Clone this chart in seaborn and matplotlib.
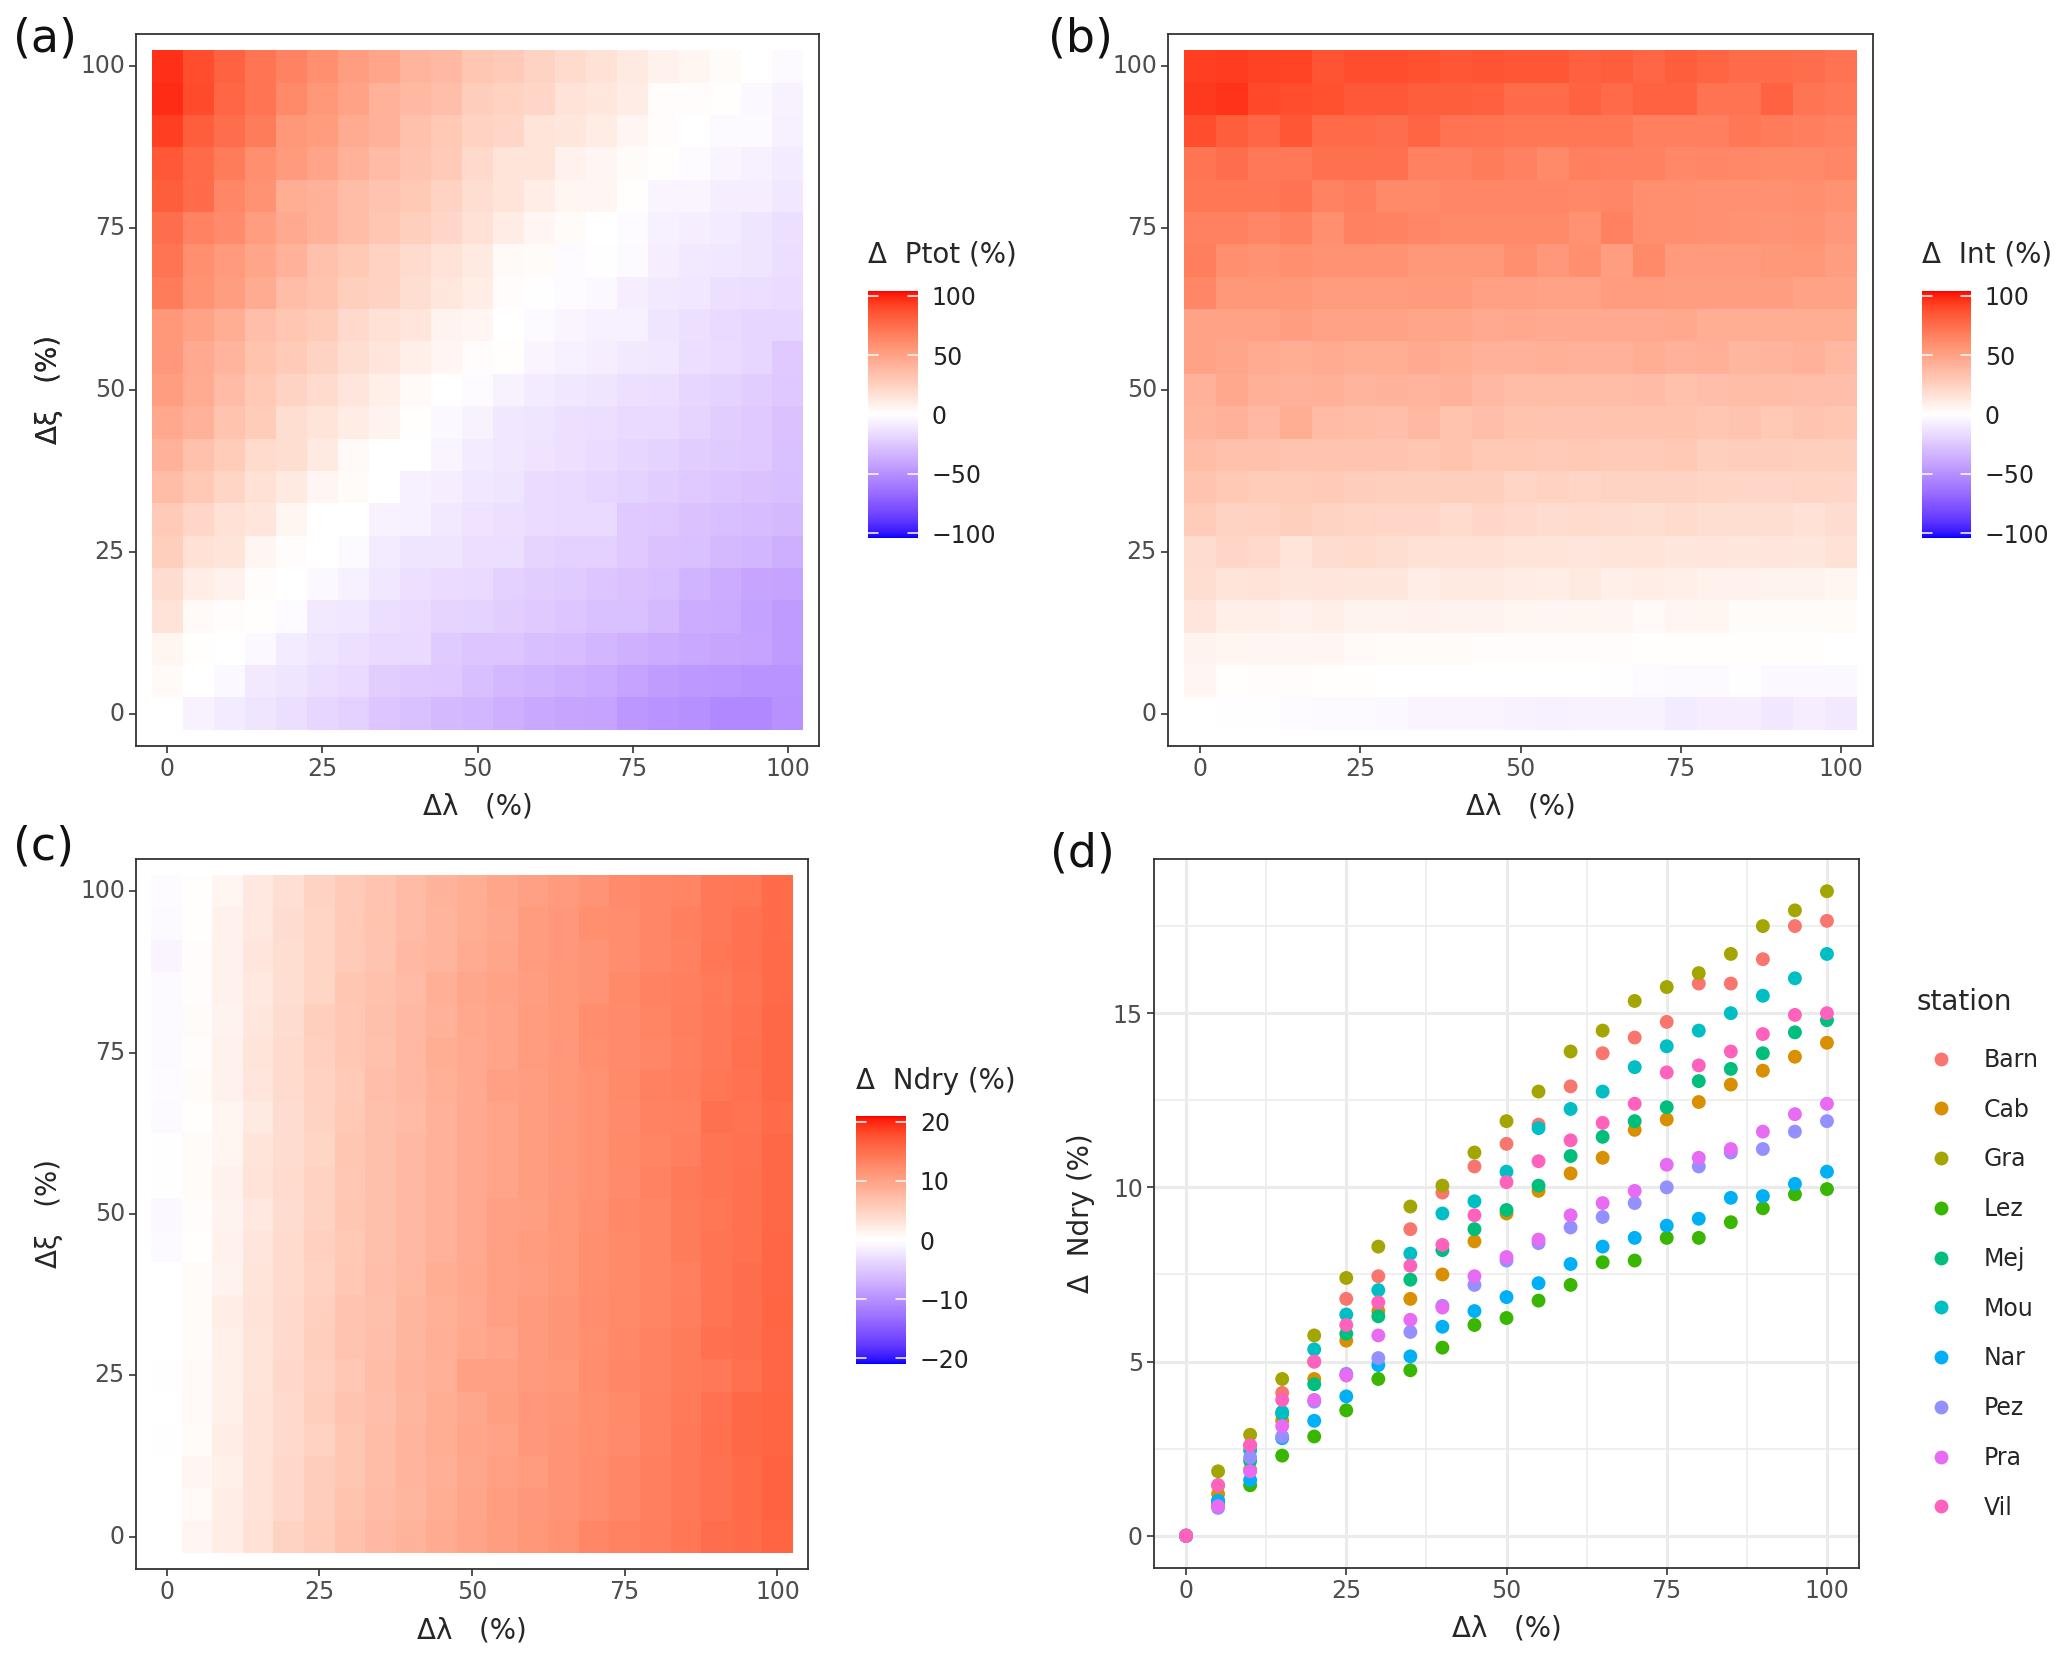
import numpy as np
import pandas as pd
import matplotlib
matplotlib.use('Agg')
import matplotlib.pyplot as plt
import seaborn as sns
from matplotlib.colors import ListedColormap

# Axis values
lambda_pct = [0, 5, 10, 15, 20, 25, 30, 35, 40, 45, 50, 55, 60, 65, 70, 75, 80, 85, 90, 95, 100]
xi_pct = [100, 95, 90, 85, 80, 75, 70, 65, 60, 55, 50, 45, 40, 35, 30, 25, 20, 15, 10, 5, 0]

# Panel (a), rows run from xi=100 down to xi=0
ptot = [
    [97, 88, 80, 72, 65, 60, 52, 48, 40, 38, 31, 29, 24, 20, 17, 12, 8, 6, 3, 0, -3],
    [98, 89, 78, 72, 62, 56, 50, 42, 38, 35, 27, 25, 22, 16, 13, 11, 2, 2, 1, -4, -6],
    [93, 82, 75, 69, 56, 53, 45, 42, 34, 30, 25, 22, 15, 13, 11, 5, 2, 0, -3, -3, -7],
    [84, 77, 69, 60, 54, 49, 42, 37, 32, 29, 21, 15, 15, 8, 5, 3, 1, -2, -5, -7, -9],
    [82, 76, 64, 58, 44, 42, 36, 32, 30, 24, 18, 15, 10, 6, 5, 1, -5, -5, -8, -8, -11],
    [75, 65, 61, 52, 46, 42, 36, 31, 26, 22, 17, 11, 5, 3, 0, -2, -7, -8, -9, -12, -14],
    [72, 60, 54, 48, 42, 34, 30, 25, 20, 16, 12, 4, 3, -2, -1, -3, -8, -10, -11, -12, -15],
    [69, 58, 52, 45, 36, 33, 26, 24, 18, 13, 10, 2, -1, -2, -4, -8, -10, -11, -14, -15, -16],
    [56, 50, 44, 35, 31, 28, 21, 17, 14, 7, 5, 0, -3, -5, -7, -7, -12, -14, -17, -18, -18],
    [55, 46, 40, 33, 29, 24, 18, 14, 9, 5, 2, 1, -5, -7, -8, -10, -11, -15, -16, -18, -24],
    [52, 45, 37, 30, 24, 20, 14, 9, 4, 0, -2, -6, -9, -11, -12, -14, -15, -18, -20, -22, -25],
    [47, 42, 33, 28, 18, 15, 11, 7, 1, -4, -6, -11, -12, -14, -15, -17, -17, -19, -22, -24, -27],
    [42, 34, 28, 20, 18, 12, 4, 0, 0, -5, -9, -11, -13, -14, -16, -18, -20, -22, -23, -24, -28],
    [36, 30, 23, 17, 12, 5, 3, 0, -7, -8, -11, -12, -16, -17, -18, -20, -22, -24, -26, -27, -29],
    [29, 22, 17, 14, 6, 0, 0, -6, -7, -10, -13, -14, -16, -17, -17, -24, -25, -27, -29, -30, -31],
    [26, 17, 15, 5, 2, 0, -3, -9, -12, -12, -15, -15, -19, -21, -21, -24, -27, -28, -31, -33, -36],
    [19, 10, 8, 2, 0, -4, -7, -11, -14, -16, -17, -21, -22, -23, -26, -27, -29, -34, -37, -40, -41],
    [16, 4, 2, 1, -2, -10, -11, -15, -16, -19, -20, -22, -24, -26, -28, -28, -31, -37, -38, -42, -45],
    [6, 1, 0, -4, -9, -12, -14, -17, -17, -23, -26, -26, -29, -30, -33, -35, -37, -39, -40, -41, -45],
    [4, 0, -4, -10, -12, -15, -17, -22, -24, -25, -29, -32, -34, -36, -38, -41, -44, -46, -47, -48, -48],
    [0, -6, -9, -12, -15, -18, -21, -26, -28, -31, -33, -36, -39, -40, -41, -47, -48, -50, -53, -53, -49],
]

# Panel (b)
int_pct = [
    [93, 94, 92, 91, 86, 88, 88, 87, 85, 86, 85, 85, 81, 82, 78, 82, 79, 76, 76, 75, 73],
    [95, 96, 90, 88, 87, 84, 84, 82, 82, 81, 76, 76, 80, 77, 80, 80, 73, 73, 80, 72, 70],
    [88, 82, 78, 85, 77, 77, 75, 79, 73, 72, 71, 71, 71, 71, 67, 67, 67, 71, 69, 68, 65],
    [72, 75, 70, 70, 74, 74, 74, 66, 66, 69, 66, 62, 67, 66, 66, 63, 64, 63, 62, 62, 64],
    [71, 71, 71, 73, 65, 68, 62, 62, 64, 64, 64, 64, 63, 64, 60, 60, 59, 59, 59, 60, 58],
    [66, 66, 64, 66, 60, 66, 65, 64, 62, 62, 62, 62, 58, 66, 60, 60, 59, 58, 57, 58, 55],
    [68, 60, 58, 60, 58, 58, 58, 56, 56, 56, 60, 55, 60, 52, 62, 54, 54, 54, 56, 56, 52],
    [64, 56, 56, 56, 53, 53, 53, 54, 54, 51, 51, 50, 50, 53, 53, 52, 52, 52, 52, 50, 50],
    [50, 50, 50, 52, 50, 50, 50, 48, 48, 46, 47, 46, 46, 46, 46, 47, 44, 44, 44, 44, 44],
    [50, 48, 45, 44, 45, 44, 44, 46, 44, 42, 42, 43, 42, 42, 44, 42, 43, 39, 40, 42, 38],
    [42, 47, 43, 42, 43, 40, 41, 40, 42, 38, 36, 36, 36, 36, 37, 34, 35, 36, 36, 35, 35],
    [40, 42, 38, 44, 37, 36, 35, 38, 33, 35, 33, 32, 32, 33, 33, 33, 31, 32, 30, 32, 31],
    [36, 34, 34, 32, 32, 32, 32, 31, 33, 30, 30, 29, 30, 29, 29, 30, 26, 27, 27, 26, 26],
    [32, 30, 28, 28, 29, 27, 26, 26, 26, 26, 23, 25, 23, 24, 24, 24, 23, 22, 22, 23, 22],
    [28, 24, 25, 26, 24, 23, 22, 22, 20, 22, 21, 19, 20, 19, 18, 20, 18, 18, 18, 17, 19],
    [19, 22, 21, 15, 19, 20, 18, 17, 17, 17, 15, 15, 14, 15, 15, 13, 14, 13, 14, 13, 17],
    [18, 15, 16, 13, 14, 13, 13, 10, 12, 12, 11, 10, 12, 9, 10, 9, 8, 8, 7, 7, 6],
    [14, 9, 9, 8, 9, 7, 7, 8, 7, 7, 6, 5, 6, 5, 4, 5, 6, 3, 3, 3, 3],
    [7, 6, 5, 5, 5, 4, 3, 3, 3, 2, 2, 2, 2, 2, 1, 1, 1, 1, 1, 1, 0],
    [5, 1, 2, 2, 1, 1, 0, 0, 0, 0, 0, 0, 0, -1, -2, -3, -3, -1, -4, -4, -4],
    [0, -1, -1, -2, -3, -3, -4, -5, -5, -5, -6, -7, -6, -6, -6, -9, -8, -8, -11, -8, -10],
]

# Panel (c)
ndry = [
    [-0.4, 0.3, 1.3, 2.6, 3.6, 4.8, 5.9, 6.5, 7.4, 8.3, 8.9, 9.7, 10.3, 10.9, 11.5, 12.4, 12.8, 13.1, 14.2, 14.4, 15.4],
    [-0.6, 0.3, 1.6, 2.6, 3.8, 4.6, 5.9, 6.7, 7.5, 8.2, 9.0, 9.6, 10.7, 11.0, 12.1, 12.2, 12.8, 13.5, 14.2, 14.8, 15.4],
    [-1.0, 0.4, 1.5, 2.9, 3.7, 4.7, 5.8, 6.5, 7.7, 8.2, 9.1, 9.8, 10.7, 11.1, 11.5, 12.2, 12.8, 13.4, 14.4, 14.8, 15.5],
    [-0.6, 0.4, 1.5, 2.6, 3.7, 4.6, 6.3, 6.8, 7.5, 8.7, 9.6, 10.1, 10.5, 11.2, 11.6, 12.5, 13.2, 13.6, 14.1, 14.7, 15.5],
    [-0.5, 0.5, 1.4, 2.7, 3.9, 5.4, 6.1, 6.9, 7.6, 8.4, 9.4, 9.9, 10.8, 11.3, 12.2, 12.4, 13.0, 13.7, 14.2, 14.8, 15.6],
    [-0.5, 0.4, 1.6, 3.0, 4.0, 5.1, 6.2, 6.8, 7.6, 8.9, 9.3, 9.9, 10.8, 11.1, 12.1, 12.4, 12.9, 13.6, 14.2, 15.0, 15.6],
    [-0.4, 0.5, 1.5, 2.9, 4.0, 5.0, 5.9, 7.2, 7.8, 8.6, 9.3, 10.2, 10.5, 11.2, 11.8, 12.6, 13.3, 13.7, 14.3, 14.8, 15.6],
    [-0.6, 0.2, 1.3, 2.3, 3.9, 4.9, 6.0, 6.9, 7.5, 8.5, 9.2, 9.9, 10.6, 11.1, 11.8, 12.4, 13.2, 13.4, 15.0, 14.7, 15.4],
    [-0.3, 0.5, 1.3, 3.1, 3.9, 4.7, 6.3, 6.9, 7.7, 8.5, 9.2, 10.0, 10.6, 11.2, 11.7, 12.6, 13.1, 13.5, 14.6, 14.9, 15.6],
    [-0.3, 0.6, 1.5, 3.2, 4.0, 5.0, 6.1, 7.0, 7.6, 8.4, 9.2, 10.0, 10.5, 11.1, 11.8, 12.4, 13.2, 14.0, 14.6, 15.0, 15.7],
    [-0.7, 0.4, 1.4, 2.6, 3.8, 4.8, 6.3, 6.9, 7.6, 8.5, 9.2, 10.2, 10.4, 11.3, 11.9, 12.7, 13.1, 13.8, 14.4, 15.0, 15.6],
    [-0.6, 0.2, 1.5, 2.8, 4.1, 5.1, 6.0, 7.0, 7.8, 8.4, 9.3, 10.2, 10.7, 11.3, 12.0, 12.5, 13.0, 13.8, 14.5, 15.0, 15.8],
    [0.0, 0.6, 1.4, 3.1, 4.0, 5.0, 6.1, 7.1, 7.8, 8.9, 9.4, 10.3, 10.6, 11.2, 12.0, 12.6, 13.0, 13.6, 14.5, 15.1, 15.8],
    [0.0, 0.6, 2.0, 3.2, 4.2, 5.1, 6.4, 7.0, 7.9, 8.6, 9.2, 10.3, 10.9, 11.4, 12.2, 12.6, 13.0, 13.7, 14.6, 15.1, 16.0],
    [-0.1, 0.6, 1.8, 3.0, 4.2, 5.3, 6.4, 7.2, 7.9, 8.7, 9.5, 9.9, 10.9, 11.4, 12.0, 12.7, 13.2, 13.8, 15.0, 15.2, 15.8],
    [-0.3, 0.7, 1.7, 3.1, 4.3, 5.2, 6.1, 7.3, 8.1, 8.6, 10.2, 10.2, 10.9, 11.3, 12.3, 12.8, 13.2, 13.9, 14.2, 15.0, 15.9],
    [0.0, 0.8, 1.7, 3.2, 4.2, 5.3, 6.4, 7.2, 8.0, 8.9, 9.6, 10.4, 11.0, 11.4, 12.1, 12.6, 13.3, 14.0, 14.9, 15.7, 16.0],
    [-0.2, 0.5, 2.0, 3.2, 4.2, 5.0, 6.3, 7.3, 8.2, 8.9, 9.7, 10.1, 11.0, 11.6, 12.0, 12.4, 13.4, 14.2, 15.0, 15.6, 16.0],
    [0.0, 1.0, 1.7, 3.2, 4.3, 5.5, 6.3, 7.3, 8.1, 8.7, 9.6, 10.3, 10.8, 11.6, 12.2, 12.9, 13.6, 14.2, 14.8, 15.5, 16.1],
    [-0.1, 0.7, 2.0, 3.2, 4.3, 5.5, 6.6, 7.4, 8.0, 9.0, 9.7, 10.5, 11.0, 11.6, 12.2, 12.9, 13.6, 14.2, 14.9, 15.5, 16.1],
    [0.0, 1.0, 2.0, 3.3, 4.8, 5.6, 6.8, 7.7, 8.3, 9.1, 9.9, 10.6, 11.2, 11.8, 12.8, 13.2, 13.7, 14.4, 15.2, 15.4, 16.0],
]

# Panel (d), one list per station, lambda = 0 to 100
stations = ['Barn', 'Cab', 'Gra', 'Lez', 'Mej', 'Mou', 'Nar', 'Pez', 'Pra', 'Vil']
station_colors = ['#F8766D', '#D89000', '#A3A500', '#39B600', '#00BF7D',
                  '#00BFC4', '#00B0F6', '#9590FF', '#E76BF3', '#FF62BC']
barn = [0, 1.45, 2.6, 4.1, 5.0, 6.8, 7.45, 8.8, 9.85, 10.6, 11.25, 11.8, 12.9, 13.85, 14.3, 14.75, 15.85, 15.85, 16.55, 17.5, 17.65]
cab = [0, 1.2, 1.9, 3.3, 4.5, 5.6, 6.45, 6.8, 7.5, 8.45, 9.25, 9.9, 10.4, 10.85, 11.65, 11.95, 12.45, 12.95, 13.35, 13.75, 14.15]
gra = [0, 1.85, 2.9, 4.5, 5.75, 7.4, 8.3, 9.45, 10.05, 11.0, 11.9, 12.75, 13.9, 14.5, 15.35, 15.75, 16.15, 16.7, 17.5, 17.95, 18.5]
lez = [0, 0.9, 1.45, 2.3, 2.85, 3.6, 4.5, 4.75, 5.4, 6.05, 6.25, 6.75, 7.2, 7.85, 7.9, 8.55, 8.55, 9.0, 9.4, 9.8, 9.95]
mej = [0, 1.0, 2.15, 3.5, 4.35, 5.8, 6.3, 7.35, 8.2, 8.8, 9.35, 10.05, 10.9, 11.45, 11.9, 12.3, 13.05, 13.4, 13.85, 14.45, 14.8]
mou = [0, 1.0, 2.45, 3.55, 5.35, 6.35, 7.05, 8.1, 9.25, 9.6, 10.45, 11.7, 12.25, 12.75, 13.45, 14.05, 14.5, 15.0, 15.5, 16.0, 16.7]
nar = [0, 1.0, 1.6, 2.8, 3.3, 4.0, 4.9, 5.15, 6.0, 6.45, 6.85, 7.25, 7.8, 8.3, 8.55, 8.9, 9.1, 9.7, 9.75, 10.1, 10.45]
pez = [0, 0.8, 2.25, 2.85, 3.85, 4.65, 5.1, 5.85, 6.6, 7.2, 7.9, 8.4, 8.85, 9.15, 9.55, 10.0, 10.6, 11.0, 11.1, 11.6, 11.9]
pra = [0, 0.85, 1.85, 3.15, 3.9, 4.6, 5.75, 6.2, 6.55, 7.45, 8.0, 8.5, 9.2, 9.55, 9.9, 10.65, 10.85, 11.1, 11.6, 12.1, 12.4]
vil = [0, 1.45, 2.6, 3.9, 5.0, 6.05, 6.7, 7.75, 8.35, 9.2, 10.15, 10.75, 11.35, 11.85, 12.4, 13.3, 13.5, 13.9, 14.4, 14.95, 15.0]
station_values = [barn, cab, gra, lez, mej, mou, nar, pez, pra, vil]

W, H = 2067, 1661
sns.set_theme(style='white')
plt.rcParams['font.family'] = ['DejaVu Sans']
TICK = '#4D4D4D'
BORDER = '#333333'


def lab_to_rgb(L, a, b):
    fy = (L + 16) / 116
    fx, fz = fy + a / 500, fy - b / 200
    xyz = [0.95047, 1.0, 1.08883]
    out = []
    for f, n in zip((fx, fy, fz), xyz):
        out.append(n * (f ** 3 if f > 6 / 29 else 3 * (6 / 29) ** 2 * (f - 4 / 29)))
    X, Y, Z = out
    lin = [3.2406 * X - 1.5372 * Y - 0.4986 * Z,
           -0.9689 * X + 1.8758 * Y + 0.0415 * Z,
           0.0557 * X - 0.2040 * Y + 1.0570 * Z]
    rgb = [12.92 * c if c <= 0.0031308 else 1.055 * max(c, 0) ** (1 / 2.4) - 0.055 for c in lin]
    return [min(max(c, 0), 1) for c in rgb]


# blue - white - red, mixed in Lab like ggplot does
blue, white, red = (32.3, 79.19, -107.86), (100, 0, 0), (53.24, 80.09, 67.2)
ramp = []
for t in np.linspace(0, 1, 128):
    ramp.append(lab_to_rgb(*[u + (v - u) * t for u, v in zip(blue, white)]))
for t in np.linspace(0, 1, 128):
    ramp.append(lab_to_rgb(*[u + (v - u) * t for u, v in zip(white, red)]))
bwr_lab = ListedColormap(ramp)


def new_axes(left, top, right, bottom):
    return fig.add_axes([left / W, 1 - bottom / H, (right - left) / W, (bottom - top) / H])


def style_axes(ax, ylab_x, left, top, right, bottom):
    for s in ax.spines.values():
        s.set_visible(True)
        s.set_color(BORDER)
        s.set_linewidth(1.3)
    ax.tick_params(left=True, bottom=True, length=5, width=1.2, color=BORDER,
                   labelsize=17, labelcolor=TICK, pad=3, rotation=0)
    ax.set_xlabel('Δλ   (%)', fontsize=20)
    ax.xaxis.set_label_coords(0.5, -61 / (bottom - top))
    ax.xaxis.label.set_va('center')
    ax.yaxis.set_label_coords((ylab_x - left) / (right - left), 0.5)
    ax.yaxis.label.set_va('center')


def heat_panel(values, box, vmax, cbar_box, cbar_ticks, title, title_y):
    ax = new_axes(*box)
    cax = new_axes(*cbar_box)
    df = pd.DataFrame(values, index=xi_pct, columns=lambda_pct)
    sns.heatmap(df, ax=ax, cmap=bwr_lab, vmin=-vmax, vmax=vmax, cbar_ax=cax, square=False)
    # seaborn puts the cells at i + 0.5, so 5% steps map to one cell
    ax.set_xlim(-0.5, 21.5)
    ax.set_ylim(21.5, -0.5)
    ax.set_xticks([0.5, 5.5, 10.5, 15.5, 20.5])
    ax.set_xticklabels(['0', '25', '50', '75', '100'])
    ax.set_yticks([0.5, 5.5, 10.5, 15.5, 20.5])
    ax.set_yticklabels(['100', '75', '50', '25', '0'])
    style_axes(ax, 49, *box)
    ax.set_ylabel('Δξ   (%)', fontsize=20)
    cax.set_yticks(cbar_ticks)
    cax.set_yticklabels([str(v).replace('-', '−') for v in cbar_ticks])
    cax.tick_params(length=0, labelsize=17, labelcolor='#222222', pad=10)
    for v in cbar_ticks:
        cax.plot([0, 0.2], [v, v], color='white', lw=1.1, transform=cax.get_yaxis_transform())
        cax.plot([0.8, 1], [v, v], color='white', lw=1.1, transform=cax.get_yaxis_transform())
    for s in cax.spines.values():
        s.set_visible(False)
    fig.text(cbar_box[0] / W, 1 - title_y / H, title, fontsize=20, va='center', ha='left')
    return ax


fig = plt.figure(figsize=(W / 100, H / 100), dpi=100)

heat_panel(ptot, (136, 34, 819, 746), 104, (868, 291, 918, 538),
           [-100, -50, 0, 50, 100], 'Δ  Ptot (%)', 254)
heat_panel(int_pct, (1168, 34, 1873, 746), 104, (1922, 291, 1971, 538),
           [-100, -50, 0, 50, 100], 'Δ  Int (%)', 254)
heat_panel(ndry, (136, 859, 808, 1569), 21, (856, 1116, 906, 1364),
           [-20, -10, 0, 10, 20], 'Δ  Ndry (%)', 1081)

# Panel (d)
rows = []
for name, vals in zip(stations, station_values):
    rows.append(pd.DataFrame({'lam': lambda_pct, 'ndry': vals, 'station': name}))
long_df = pd.concat(rows, ignore_index=True)

box_d = (1154, 859, 1859, 1568)
ax = new_axes(*box_d)
sns.scatterplot(data=long_df, x='lam', y='ndry', hue='station', hue_order=stations,
                palette=station_colors, s=100, linewidth=0, ax=ax, zorder=3)
ax.set_xlim(-5, 105)
ax.set_ylim(-0.925, 19.425)
ax.set_xticks([0, 25, 50, 75, 100])
ax.set_yticks([0, 5, 10, 15])
ax.set_xticks([12.5, 37.5, 62.5, 87.5], minor=True)
ax.set_yticks([2.5, 7.5, 12.5, 17.5], minor=True)
ax.grid(True, which='major', color='#EBEBEB', lw=2.2)
ax.grid(True, which='minor', color='#EBEBEB', lw=1.1)
ax.set_axisbelow(True)
style_axes(ax, 1081, *box_d)
ax.tick_params(which='minor', length=0)
ax.set_ylabel('Δ  Ndry (%)', fontsize=20)
sns.move_legend(ax, 'upper left', bbox_to_anchor=((1917 - 1154) / 705, 1 - (988 - 859) / 709),
                frameon=False, fontsize=17, title='station', title_fontsize=20,
                labelspacing=1.09, handletextpad=0.82, borderpad=0, borderaxespad=0)
ax.get_legend()._legend_box.align = 'left'
ax.get_legend()._legend_box.sep = 23

# Panel letters
for letter, x, y in [('(a)', 13, 39), ('(b)', 1048, 39), ('(c)', 13, 847), ('(d)', 1050, 854)]:
    fig.text(x / W, 1 - y / H, letter, fontsize=33, va='center', ha='left', color='#111111')

fig.savefig('out.png', dpi=100)
